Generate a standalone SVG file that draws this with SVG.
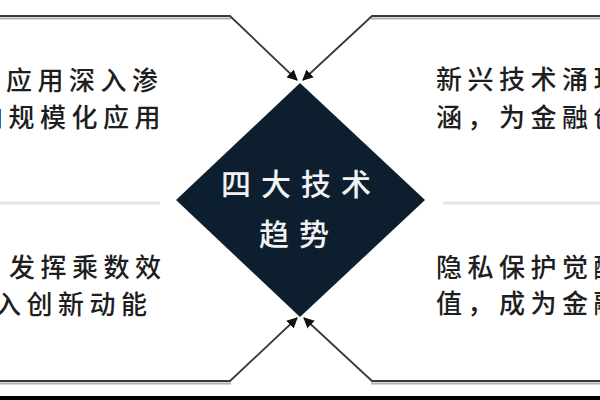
<svg xmlns="http://www.w3.org/2000/svg" width="600" height="400" viewBox="0 0 600 400">
  <style>
    .txt { font-family: "Noto Sans CJK SC", "Noto Sans", sans-serif; font-size: 26px; letter-spacing: 5.5px; fill: #1e1e1e; font-weight: 500; }
    .ctr { font-family: "Noto Sans CJK SC", "Noto Sans", sans-serif; font-size: 30px; letter-spacing: 10px; fill: #f2f2f2; font-weight: 500; }
    .conn { fill: none; stroke: #3a3a3a; stroke-width: 1.8; }
    .shadow { fill: none; stroke: #b0b0b0; stroke-width: 2; }
    .sep { stroke: #e4e4e4; stroke-width: 3; }
  </style>
  <defs>
    <marker id="arrow" viewBox="0 0 10 10" refX="9" refY="5" markerWidth="6" markerHeight="6" orient="auto" markerUnits="strokeWidth">
      <path d="M0,0 L10,5 L0,10 Z" fill="#111"/>
    </marker>
  </defs>
  <rect x="0" y="0" width="600" height="400" fill="#ffffff"/>

  <g id="separators">
    <line class="sep" x1="0" y1="203" x2="160" y2="203"/>
    <line class="sep" x1="443" y1="203" x2="600" y2="203"/>
  </g>

  <g id="connectors">
    <polyline class="shadow" points="0,18.5 231,18.5"/>
    <polyline class="shadow" points="600,18.5 371,18.5"/>
    <polyline class="shadow" points="0,383.5 231,383.5"/>
    <polyline class="shadow" points="600,383.5 371,383.5"/>
    <polyline class="conn" points="0,16 230,16 297,80" marker-end="url(#arrow)"/>
    <polyline class="conn" points="600,16 372,16 303,80" marker-end="url(#arrow)"/>
    <polyline class="conn" points="0,381 230,381 297,318" marker-end="url(#arrow)"/>
    <polyline class="conn" points="600,381 372,381 304,318" marker-end="url(#arrow)"/>
  </g>

  <g id="node-center">
    <polygon points="300,83 425,200 300,317 176,200" fill="#0d1f2f"/>
    <text class="ctr" x="221" y="195">四大技术</text>
    <text class="ctr" x="259" y="245">趋势</text>
  </g>

  <g id="node-top-left">
    <text class="txt" x="6" y="90">应用深入渗</text>
    <text class="txt" x="-23" y="127">向规模化应用</text>
  </g>

  <g id="node-top-right">
    <text class="txt" x="436" y="89">新兴技术涌现</text>
    <text class="txt" x="436" y="127">涵，为金融创</text>
  </g>

  <g id="node-bottom-left">
    <text class="txt" x="9" y="277">发挥乘数效</text>
    <text class="txt" x="-5" y="314">入创新动能</text>
  </g>

  <g id="node-bottom-right">
    <text class="txt" x="436" y="277">隐私保护觉醒</text>
    <text class="txt" x="436" y="313">值，成为金融</text>
  </g>

  <rect id="bottom-bar" x="0" y="396" width="600" height="4" fill="#000"/>
</svg>
